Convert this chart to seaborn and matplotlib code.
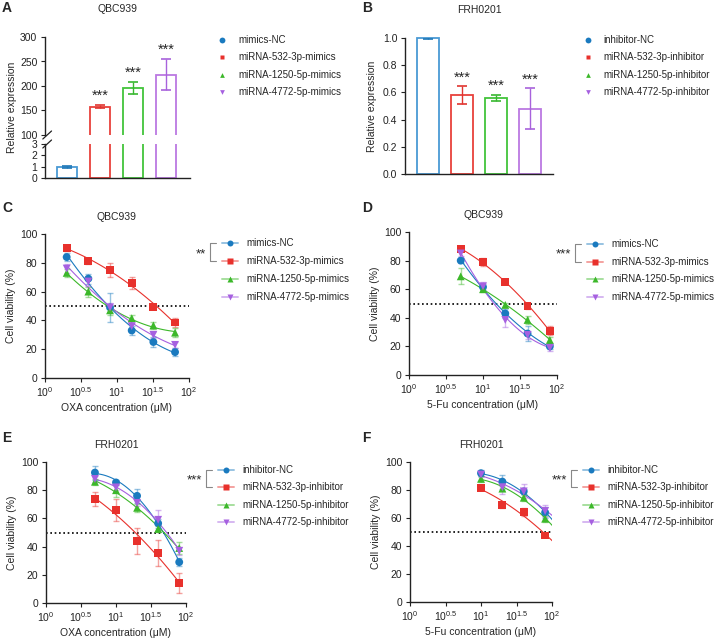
import numpy as np
import pandas as pd
import matplotlib.pyplot as plt
from matplotlib.lines import Line2D
import seaborn as sns

sns.set_style("ticks")
plt.rcParams['font.family'] = ['Liberation Sans', 'DejaVu Sans']
plt.rcParams['mathtext.default'] = 'regular'
plt.rcParams['font.size'] = 7
plt.rcParams['axes.linewidth'] = 1.0
plt.rcParams['axes.edgecolor'] = '#222222'
plt.rcParams['xtick.major.size'] = 3
plt.rcParams['ytick.major.size'] = 3
plt.rcParams['xtick.major.pad'] = 2
plt.rcParams['ytick.major.pad'] = 2.5
plt.rcParams['xtick.labelsize'] = 7.5
plt.rcParams['ytick.labelsize'] = 7.5
plt.rcParams['xtick.color'] = '#222222'
plt.rcParams['ytick.color'] = '#222222'

# --- data ---
mimic_groups = ['mimics-NC', 'miRNA-532-3p-mimics', 'miRNA-1250-5p-mimics', 'miRNA-4772-5p-mimics']
inhib_groups = ['inhibitor-NC', 'miRNA-532-3p-inhibitor', 'miRNA-1250-5p-inhibitor', 'miRNA-4772-5p-inhibitor']

# A / B : relative expression
a_mean = [1.0, 158, 196, 223]
a_sd = [0.1, 3, 12, 32]
b_mean = [1.0, 0.58, 0.56, 0.48]
b_sd = [0.005, 0.065, 0.02, 0.15]
bar_stars = ['', '***', '***', '***']

# C : QBC939, OXA
c_conc = [2, 4, 8, 16, 32, 64]
c_mean = [[84, 69, 49, 33, 25, 18],
          [90.5, 81, 75, 66, 49.5, 38.5],
          [73, 60, 47, 41.5, 36.5, 31.5],
          [76, 67, 49, 36, 30, 23]]
c_sd = [[3, 3.5, 10, 3, 3.5, 2.5],
        [2, 2, 5, 4, 1.5, 3],
        [3, 3.5, 3, 2, 2.5, 3],
        [3, 3, 3, 2, 2, 2]]

# D : QBC939, 5-Fu
d_conc = [5, 10, 20, 40, 80]
d_mean = [[80, 61.5, 43, 29, 20],
          [88, 79, 65, 48.5, 31],
          [69, 60, 49, 38.5, 24.5],
          [85, 62, 38.5, 28, 19]]
d_sd = [[2, 2, 3, 5, 2],
        [1.5, 3, 1, 2, 3],
        [5.5, 2, 1.5, 3, 2],
        [2, 3, 5, 3, 2]]

# E : FRH0201, OXA
e_conc = [5, 10, 20, 40, 80]
e_mean = [[92.5, 85.5, 76, 56.5, 29],
          [73.5, 66, 44, 35.5, 14],
          [86, 80, 67.5, 52.5, 39],
          [88, 82, 71, 59, 37]]
e_sd = [[5, 2, 5, 3, 3],
        [5, 8, 9, 9, 7],
        [2, 5, 3, 2, 4],
        [2, 2, 2, 7, 3]]

# F : FRH0201, 5-Fu
f_conc = [10, 20, 40, 80]
f_mean = [[92, 86, 79, 64],
          [81.5, 69, 64.5, 47.5],
          [88, 81, 74.5, 59.5],
          [91, 82, 79, 65]]
f_sd = [[2, 5, 2, 4],
        [1, 2, 3, 1],
        [2, 2, 2, 2],
        [2, 5, 5, 4]]

log_ticks = [1, 10 ** 0.5, 10, 10 ** 1.5, 100]
log_labels = ['$10^{0}$', '$10^{0.5}$', '$10^{1}$', '$10^{1.5}$', '$10^{2}$']

bar_colors = ['#4a9ad4', '#e8413c', '#42c43a', '#bb78e2']
cap_colors = ['#1f78b8', '#e03530', '#38b830', '#a862dc']
pt_colors = ['#1a7abf', '#e8312c', '#3cb82a', '#a660e0']
markers = ['o', 's', '^', 'v']

W, H = 719, 639
fig = plt.figure(figsize=(W / 100, H / 100), dpi=100)


def fx(x):
    return x / W


def fy(y):
    return 1 - y / H


def px_axes(l, t, r, b):
    return fig.add_axes([l / W, 1 - b / H, (r - l) / W, (b - t) / H])


def draw_bars(ax, groups, mean, sd, xlim):
    df = pd.DataFrame({'group': groups, 'value': mean})
    sns.barplot(df, x='group', y='value', hue='group', palette=bar_colors,
                fill=False, width=0.63, linewidth=1.3, errorbar=None,
                legend=False, ax=ax)
    for i, (m, s) in enumerate(zip(mean, sd)):
        ax.errorbar(i, m, yerr=s, color=cap_colors[i], capsize=3.5,
                    elinewidth=1, capthick=1.2, zorder=3)
    ax.set_xlim(*xlim)
    ax.set_xticks([])
    ax.set_xlabel('')
    ax.set_ylabel('')


def add_stars(ax, mean, sd):
    for i, (m, s, st) in enumerate(zip(mean, sd, bar_stars)):
        if st:
            ax.annotate(st, (i, m + s), xytext=(0, 3.5), textcoords='offset points',
                        ha='center', va='baseline', fontsize=10.5)


def marker_legend(x0, y0, labels, dy, gap):
    for i, lab in enumerate(labels):
        y = y0 + i * dy
        ms = 4.2 if markers[i] == 'o' else 3.4
        fig.add_artist(Line2D([fx(x0)], [fy(y)], marker=markers[i], color=pt_colors[i],
                              ms=ms, lw=0, mec='none'))
        fig.text(fx(x0 + gap), fy(y), lab, ha='left', va='center', fontsize=7)


def curve_legend(x0, y0, labels, stars, dy):
    for i, lab in enumerate(labels):
        y = y0 + i * dy
        fig.add_artist(Line2D([fx(x0), fx(x0 + 16)], [fy(y), fy(y)],
                              color=pt_colors[i], alpha=0.45, lw=1.4))
        fig.add_artist(Line2D([fx(x0 + 8)], [fy(y)], marker=markers[i], color=pt_colors[i],
                              ms=4.3, lw=0, mec='none'))
        fig.text(fx(x0 + 24), fy(y), lab, ha='left', va='center', fontsize=7)
    bx = x0 - 12
    fig.add_artist(Line2D([fx(bx + 6), fx(bx), fx(bx), fx(bx + 6)],
                          [fy(y0), fy(y0), fy(y0 + dy), fy(y0 + dy)],
                          color='#888888', lw=0.8))
    fig.text(fx(bx - 4), fy(y0 + dy / 2 + 2), stars, ha='right', va='center', fontsize=9.5)


def curve_panel(ax, conc, means, sds, groups, title, xlabel, fit_end=None):
    logc = np.log10(conc)
    pts, fits = [], []
    for g, m in zip(groups, means):
        p = np.polyfit(logc, m, 2)
        xs = np.linspace(logc[0], np.log10(fit_end) if fit_end else logc[-1], 60)
        fits.append(pd.DataFrame({'group': g, 'conc': 10 ** xs, 'viab': np.polyval(p, xs)}))
        pts.append(pd.DataFrame({'group': g, 'conc': conc, 'viab': m}))
    fit_df = pd.concat(fits)
    pt_df = pd.concat(pts)
    ax.axhline(50, color='black', ls=(0, (1, 1.6)), lw=1.2, zorder=1)
    sns.lineplot(fit_df, x='conc', y='viab', hue='group', palette=pt_colors,
                 linewidth=0.8, legend=False, ax=ax, zorder=2)
    for i, (m, s) in enumerate(zip(means, sds)):
        ax.errorbar(conc, m, yerr=s, fmt='none', ecolor=pt_colors[i], alpha=0.45,
                    capsize=2.5, elinewidth=1, capthick=1, zorder=2)
    sns.scatterplot(pt_df, x='conc', y='viab', hue='group', style='group',
                    markers=markers, palette=pt_colors, s=32, edgecolor='none',
                    legend=False, ax=ax, zorder=4)
    ax.set_xscale('log')
    ax.set_xlim(1, 100)
    ax.set_ylim(0, 100)
    ax.set_xticks(log_ticks)
    ax.set_xticklabels(log_labels)
    ax.minorticks_off()
    ax.set_yticks([0, 20, 40, 60, 80, 100])
    ax.set_xlabel(xlabel, fontsize=7.5, labelpad=3)
    ax.set_ylabel('Cell viability (%)', fontsize=7.5, labelpad=3)
    ax.set_title(title, fontsize=7.5, pad=10)
    sns.despine(ax=ax)


# --- panel A (broken y axis) ---
ax_top = px_axes(45, 37, 190, 135)
ax_bot = px_axes(45, 144, 190, 178)
for ax in (ax_top, ax_bot):
    draw_bars(ax, mimic_groups, a_mean, a_sd, (-0.67, 3.73))
ax_top.set_ylim(100, 300)
ax_top.set_yticks([100, 150, 200, 250, 300])
ax_bot.set_ylim(0, 3)
ax_bot.set_yticks([0, 1, 2, 3])
sns.despine(ax=ax_top, bottom=True)
sns.despine(ax=ax_bot)
add_stars(ax_top, a_mean, a_sd)
ax_top.set_title('QBC939', fontsize=7.5, pad=18)
fig.text(fx(12), fy(107), 'Relative expression', rotation=90, ha='center', va='center', fontsize=7.5)
for ax, yb in ((ax_top, 0.0), (ax_bot, 1.0)):
    h = 4 / ((135 - 37) if ax is ax_top else 34)
    ax.plot([-0.015, 0.045], [yb - h, yb + h], transform=ax.transAxes,
            color='#222222', lw=0.9, clip_on=False)
marker_legend(222, 40, mimic_groups, 17.4, 16)

# --- panel B ---
ax_b = px_axes(405, 38, 553, 174)
draw_bars(ax_b, inhib_groups, b_mean, b_sd, (-0.68, 3.68))
for p in ax_b.patches:
    p.set_clip_on(False)
ax_b.set_ylim(0, 1.0)
ax_b.set_yticks([0, 0.2, 0.4, 0.6, 0.8, 1.0])
ax_b.set_yticklabels(['0.0', '0.2', '0.4', '0.6', '0.8', '1.0'])
ax_b.set_ylabel('Relative expression', fontsize=7.5, labelpad=4)
ax_b.set_title('FRH0201', fontsize=7.5, pad=18)
sns.despine(ax=ax_b)
add_stars(ax_b, b_mean, b_sd)
marker_legend(588, 40, inhib_groups, 17.4, 15)

# --- panels C-F ---
ax_c = px_axes(45, 234, 189, 378)
curve_panel(ax_c, c_conc, c_mean, c_sd, mimic_groups, 'QBC939', 'OXA concentration (μM)')
curve_legend(222, 243, mimic_groups, '**', 18)

ax_d = px_axes(409, 232, 557, 375)
curve_panel(ax_d, d_conc, d_mean, d_sd, mimic_groups, 'QBC939', '5-Fu concentration (μM)')
curve_legend(587, 244, mimic_groups, '***', 17.7)

ax_e = px_axes(46, 462, 186, 603)
curve_panel(ax_e, e_conc, e_mean, e_sd, inhib_groups, 'FRH0201', 'OXA concentration (μM)')
curve_legend(218, 470, inhib_groups, '***', 17.4)

ax_f = px_axes(410, 462, 552, 602)
curve_panel(ax_f, f_conc, f_mean, f_sd, inhib_groups, 'FRH0201', '5-Fu concentration (μM)', fit_end=105)
curve_legend(583, 470, inhib_groups, '***', 17.4)

# panel letters
for lab, x, y in (('A', 2, 8), ('B', 362, 8), ('C', 2, 208), ('D', 362, 208),
                  ('E', 2, 438), ('F', 362, 438)):
    fig.text(fx(x), fy(y), lab, fontsize=10, fontweight='bold', ha='left', va='center')

fig.savefig('out.png', dpi=100)
